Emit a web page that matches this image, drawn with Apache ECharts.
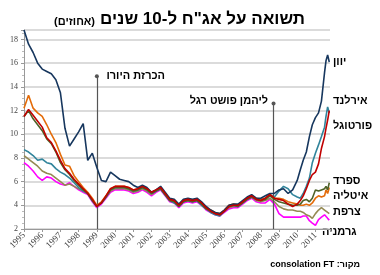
<!DOCTYPE html>
<html><head><meta charset="utf-8">
<script src="https://cdn.jsdelivr.net/npm/echarts@6/dist/echarts.min.js"></script>
<style>html,body{margin:0;padding:0;background:#fff}#c{width:380px;height:275px;direction:rtl}</style>
</head><body><div id="c"></div>
<script>
// time grid (decimal years)
const T = [1995.0,1995.25,1995.5,1995.75,1996.0,1996.25,1996.5,1996.75,1997.0,1997.25,1997.5,1997.75,
1998.0,1998.25,1998.5,1998.75,1999.0,1999.25,1999.5,1999.75,2000.0,2000.25,2000.5,2000.75,
2001.0,2001.25,2001.5,2001.75,2002.0,2002.25,2002.5,2002.75,2003.0,2003.25,2003.5,2003.75,
2004.0,2004.25,2004.5,2004.75,2005.0,2005.25,2005.5,2005.75,2006.0,2006.25,2006.5,2006.75,
2007.0,2007.25,2007.5,2007.75,2008.0,2008.25,2008.5,2008.75,2009.0,2009.25,2009.5,2009.75,
2010.0,2010.17,2010.33,2010.5,2010.67,2010.83,2011.0,2011.17,2011.33,2011.5,2011.58,2011.67,2011.76];

const germany = [7.6,7.3,6.9,6.4,6.1,6.4,6.3,6.0,5.8,5.7,5.9,5.6,5.3,5.1,4.9,4.3,3.8,4.1,4.6,5.1,
5.3,5.3,5.3,5.2,5.0,5.1,5.3,5.1,4.8,5.1,5.3,4.8,4.3,4.2,3.8,4.2,4.3,4.2,4.3,4.0,3.6,3.4,3.2,3.1,
3.4,3.7,3.8,3.8,4.1,4.4,4.6,4.3,4.2,4.2,4.5,4.1,3.3,3.0,3.0,3.0,3.0,3.0,3.1,3.1,2.7,2.5,2.3,2.8,3.0,3.2,3.1,2.9,2.75];
const france = [8.2,7.9,7.6,7.3,6.9,6.7,6.6,6.3,6.0,5.7,5.8,5.6,5.4,5.2,5.0,4.4,3.9,4.2,4.7,5.2,
5.4,5.4,5.4,5.3,5.1,5.2,5.4,5.2,4.9,5.2,5.4,4.9,4.4,4.3,3.9,4.3,4.4,4.3,4.4,4.1,3.7,3.5,3.3,3.2,
3.5,3.8,3.9,3.9,4.2,4.5,4.7,4.4,4.3,4.4,4.6,4.3,3.9,3.7,3.6,3.6,3.5,3.5,3.4,3.2,3.1,2.9,3.3,3.6,3.8,3.6,3.6,3.4,3.3];
const italy = [12.2,13.3,12.2,11.8,11.5,10.8,10.0,9.3,8.3,7.4,7.3,6.5,6.0,5.5,5.1,4.6,4.0,4.3,4.8,5.4,
5.6,5.6,5.6,5.5,5.3,5.4,5.6,5.4,5.1,5.3,5.5,5.0,4.5,4.4,4.0,4.4,4.5,4.4,4.5,4.2,3.8,3.6,3.4,3.3,
3.6,4.0,4.1,4.0,4.3,4.6,4.8,4.6,4.5,4.6,4.9,4.6,4.6,4.5,4.3,4.2,4.1,4.0,4.0,4.1,4.0,4.2,4.6,4.8,4.7,4.8,5.3,5.0,5.5];
const spain = [11.5,12.0,11.3,10.8,10.3,9.6,9.2,8.5,7.6,7.0,6.6,6.1,5.7,5.3,5.0,4.4,3.9,4.2,4.7,5.3,
5.5,5.5,5.5,5.4,5.2,5.3,5.5,5.3,5.0,5.2,5.4,4.9,4.4,4.3,3.9,4.3,4.4,4.3,4.4,4.1,3.7,3.5,3.3,3.2,
3.5,3.9,4.0,3.9,4.2,4.5,4.7,4.5,4.4,4.5,4.8,4.5,4.3,4.2,4.1,4.0,4.0,4.1,4.4,4.5,4.3,4.6,5.3,5.2,5.3,5.4,5.6,5.3,5.9];
const portugal = [11.5,12.1,11.6,11.1,10.6,9.7,9.3,8.6,7.8,7.1,6.7,6.2,5.8,5.4,5.0,4.5,3.9,4.2,4.8,5.4,
5.6,5.6,5.6,5.5,5.3,5.4,5.6,5.4,5.1,5.3,5.5,5.0,4.5,4.4,4.0,4.4,4.5,4.4,4.5,4.2,3.8,3.5,3.3,3.2,
3.5,3.9,4.0,4.0,4.3,4.6,4.8,4.5,4.4,4.6,4.9,4.6,4.5,4.4,4.1,3.9,4.1,4.4,4.8,5.4,6.1,6.6,6.8,7.5,8.8,9.8,10.5,11.2,12.0];
const ireland = [8.7,8.5,8.2,7.8,7.9,7.6,7.5,7.1,6.8,6.6,6.3,5.9,5.5,5.2,5.0,4.4,3.9,4.2,4.7,5.3,
5.5,5.5,5.5,5.4,5.2,5.3,5.5,5.3,5.0,5.2,5.4,4.9,4.4,4.2,3.9,4.3,4.4,4.3,4.4,4.0,3.7,3.4,3.2,3.1,
3.5,3.9,4.0,3.9,4.2,4.5,4.7,4.5,4.4,4.6,4.9,4.7,5.2,5.6,5.4,4.9,4.7,4.6,5.0,5.6,6.3,7.6,8.4,9.1,9.8,10.6,11.5,12.3,11.8];
const greece = [18.8,17.6,16.9,16.0,15.5,15.3,15.1,14.6,13.5,10.5,9.0,9.6,10.2,10.9,7.8,8.4,7.2,6.1,6.0,6.8,
6.5,6.2,6.1,6.0,5.7,5.5,5.7,5.5,5.1,5.3,5.6,5.1,4.6,4.5,4.1,4.5,4.6,4.5,4.6,4.3,3.9,3.6,3.4,3.3,
3.6,4.0,4.1,4.1,4.4,4.7,4.9,4.6,4.6,4.8,5.0,5.0,5.3,5.4,5.0,5.3,6.1,7.0,7.8,8.5,9.8,10.8,11.4,11.8,12.8,15.2,16.2,16.7,16.1];

const names = ['גרמניה','צרפת','אירלנד','איטליה','ספרד','יוון','פורטוגל'];
const values = [germany, france, ireland, italy, spain, greece, portugal];
const colors = ['#ff00ff','#948a54','#31849b','#e46c0a','#4f6228','#17375e','#c00000'];
const events = [{x:1999.0, y:14.9, label:'הכרזת היורו'},{x:2008.7, y:12.6, label:'ליהמן פושט רגל'}];
const titleMain = 'תשואה על אג"ח ל-10 שנים';
const titleUnit = '(אחוזים)';
const source = 'מקור: consolation FT';

const series = values.map((v,i)=>({
  name: names[i], type:'line', data: v.map((y,j)=>[T[j],y]), symbol:'none',
  lineStyle:{color:colors[i], width:1.6}, itemStyle:{color:colors[i]}, z:2+i, animation:false
}));
series.push({
  type:'line', data:[], silent:true, animation:false,
  markLine:{silent:true, animation:false, symbol:['circle','none'], symbolSize:4,
    lineStyle:{color:'#555', type:'solid', width:1.2},
    label:{show:false},
    data: events.map(e=>[{coord:[e.x,e.y]},{coord:[e.x,2]}])}
});

const lab = (x,y,t,align)=>({type:'text', x:x, y:y, style:{text:t, font:'bold 11px "Liberation Sans"', fill:'#000', align:align||'left', verticalAlign:'middle'}});

const chart = echarts.init(document.getElementById('c'));
chart.setOption({
  animation:false,
  grid:{left:24, right:50, top:30, bottom:46},
  xAxis:{type:'value', min:1995, max:2011.8, interval:1,
    axisLine:{lineStyle:{color:'#999'}}, axisTick:{lineStyle:{color:'#999'}, length:3},
    splitLine:{show:false},
    axisLabel:{rotate:45, fontSize:9, fontFamily:'Liberation Serif', color:'#444', margin:5,
      formatter:v=> Number.isInteger(v)? String(v):''}},
  yAxis:{type:'value', min:2, max:18.8, interval:2,
    axisLine:{show:true, lineStyle:{color:'#999'}}, axisTick:{show:true, length:3, lineStyle:{color:'#999'}},
    minorTick:{show:true, splitNumber:4, length:2, lineStyle:{color:'#bbb'}},
    splitLine:{lineStyle:{color:'#cfcfcf', width:1.5}},
    axisLabel:{fontSize:8, fontFamily:'Liberation Serif', color:'#444', margin:6,
      formatter:v=> (v%2===0)? String(v):''}},
  series: series,
  graphic:[
    {type:'text', x:305, y:28, style:{text:titleMain, font:'bold 17px "Liberation Sans"', fill:'#000', align:'right', verticalAlign:'bottom'}},
    {type:'text', x:95, y:27, style:{text:titleUnit, font:'bold 11px "Liberation Sans"', fill:'#000', align:'right', verticalAlign:'bottom'}},
    lab(165,76,events[0].label,'right'),
    lab(268,101,events[1].label,'right'),
    lab(333,62,names[5]),
    lab(333,101,names[2]),
    lab(333,126,names[6]),
    lab(333,181,names[4]),
    lab(333,196,names[3]),
    lab(333,212,names[1]),
    lab(322,232,names[0]),
    {type:'text', x:360, y:265, style:{text:source, font:'bold 9px "Liberation Sans"', fill:'#000', align:'right', verticalAlign:'middle'}}
  ]
});
</script></body></html>
